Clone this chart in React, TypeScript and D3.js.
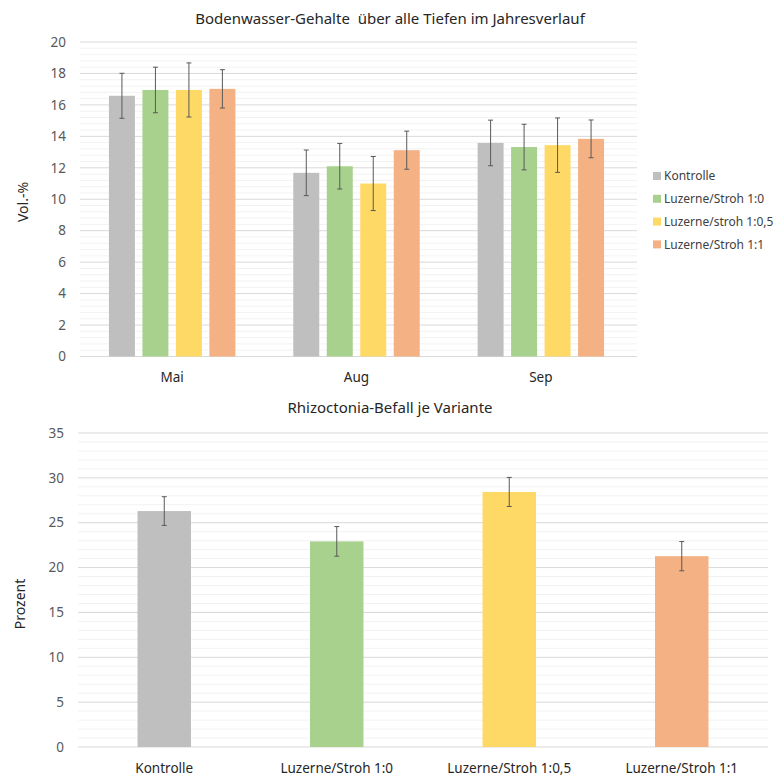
import React, { useEffect, useRef } from 'react';
import * as d3 from 'd3';

// --- Bodenwasser (top chart) ---
const months = ['Mai', 'Aug', 'Sep'];
const seriesNames = ['Kontrolle', 'Luzerne/Stroh 1:0', 'Luzerne/stroh 1:0,5', 'Luzerne/Stroh 1:1'];
const seriesColors = ['#bfbfbf', '#a9d18e', '#ffd966', '#f4b183'];

const waterKontrolle = [16.58, 11.68, 13.58];
const waterLuz10 = [16.95, 12.1, 13.32];
const waterLuz105 = [16.95, 11.0, 13.44];
const waterLuz11 = [17.02, 13.12, 13.84];

const errKontrolle = [1.43, 1.45, 1.45];
const errLuz10 = [1.45, 1.45, 1.45];
const errLuz105 = [1.72, 1.72, 1.73];
const errLuz11 = [1.22, 1.21, 1.2];

const waterTicks = [0, 2, 4, 6, 8, 10, 12, 14, 16, 18, 20];

// --- Rhizoctonia (bottom chart) ---
const varianten = ['Kontrolle', 'Luzerne/Stroh 1:0', 'Luzerne/Stroh 1:0,5', 'Luzerne/Stroh 1:1'];
const befall = [26.3, 22.92, 28.43, 21.27];
const befallErr = [1.6, 1.65, 1.62, 1.63];
const befallTicks = [0, 5, 10, 15, 20, 25, 30, 35];

const FONT = '"Noto Sans", "Open Sans", sans-serif';

const App = () => {
  const ref = useRef<SVGSVGElement>(null);

  useEffect(() => {
    document.body.style.margin = '0';
    const svg = d3.select(ref.current);
    svg.selectAll('*').remove();

    const waterValues = [waterKontrolle, waterLuz10, waterLuz105, waterLuz11];
    const waterErrors = [errKontrolle, errLuz10, errLuz105, errLuz11];

    // ===== top chart =====
    const top = { left: 80, right: 633, top: 42, bottom: 356.5 };
    const y1 = d3.scaleLinear().domain([0, 20]).range([top.bottom, top.top]);
    const x0 = d3.scaleBand().domain(months).range([top.left, top.right]).padding(0);
    const groupW = x0.bandwidth() * 0.686;
    const x1 = d3
      .scaleBand()
      .domain(seriesNames)
      .range([0, groupW])
      .paddingInner(0.224)
      .paddingOuter(0);

    const g1 = svg.append('g');

    // minor grid
    g1.append('g')
      .selectAll('line')
      .data(d3.range(0, 20.01, 0.4).filter(v => Math.abs(v / 2 - Math.round(v / 2)) > 0.01))
      .join('line')
      .attr('x1', top.left)
      .attr('x2', top.right + 4)
      .attr('y1', d => y1(d))
      .attr('y2', d => y1(d))
      .attr('stroke', '#f2f2f2')
      .attr('stroke-width', 1);

    // major grid
    g1.append('g')
      .selectAll('line')
      .data(waterTicks)
      .join('line')
      .attr('x1', top.left)
      .attr('x2', top.right + 4)
      .attr('y1', d => y1(d))
      .attr('y2', d => y1(d))
      .attr('stroke', '#d9d9d9')
      .attr('stroke-width', 1);

    g1.append('g')
      .selectAll('text')
      .data(waterTicks)
      .join('text')
      .attr('x', 66)
      .attr('y', d => y1(d))
      .attr('dy', '0.35em')
      .attr('text-anchor', 'end')
      .attr('fill', '#595959')
      .style('font-size', '13.5px')
      .text(d => d);

    seriesNames.forEach((name, si) => {
      const gs = g1.append('g');
      gs.selectAll('rect')
        .data(months)
        .join('rect')
        .attr('x', m => x0(m)! + (x0.bandwidth() - groupW) / 2 + x1(name)!)
        .attr('width', x1.bandwidth())
        .attr('y', (m, i) => y1(waterValues[si][i]))
        .attr('height', (m, i) => y1(0) - y1(waterValues[si][i]))
        .attr('fill', seriesColors[si]);

      months.forEach((m, i) => {
        const cx = x0(m)! + (x0.bandwidth() - groupW) / 2 + x1(name)! + x1.bandwidth() / 2;
        const v = waterValues[si][i];
        const e = waterErrors[si][i];
        const eg = gs.append('g').attr('stroke', '#595959').attr('stroke-width', 1);
        eg.append('line').attr('x1', cx).attr('x2', cx).attr('y1', y1(v + e)).attr('y2', y1(v - e));
        eg.append('line').attr('x1', cx - 2.5).attr('x2', cx + 2.5).attr('y1', y1(v + e)).attr('y2', y1(v + e));
        eg.append('line').attr('x1', cx - 2.5).attr('x2', cx + 2.5).attr('y1', y1(v - e)).attr('y2', y1(v - e));
      });
    });

    g1.append('g')
      .selectAll('text')
      .data(months)
      .join('text')
      .attr('x', m => x0(m)! + x0.bandwidth() / 2)
      .attr('y', 382)
      .attr('text-anchor', 'middle')
      .attr('fill', '#262626')
      .style('font-size', '13.5px')
      .text(m => m);

    g1.append('text')
      .attr('x', 390)
      .attr('y', 24)
      .attr('text-anchor', 'middle')
      .attr('fill', '#262626')
      .style('font-size', '15px')
      .style('white-space', 'pre')
      .text('Bodenwasser-Gehalte  über alle Tiefen im Jahresverlauf');

    g1.append('text')
      .attr('transform', `translate(23,202) rotate(-90)`)
      .attr('text-anchor', 'middle')
      .attr('dy', '0.35em')
      .attr('fill', '#262626')
      .style('font-size', '14px')
      .text('Vol.-%');

    // legend
    const legend = g1.append('g');
    seriesNames.forEach((name, i) => {
      const ly = 176 + i * 22.8;
      legend.append('rect').attr('x', 653).attr('y', ly - 4).attr('width', 8).attr('height', 8).attr('fill', seriesColors[i]);
      legend
        .append('text')
        .attr('x', 664)
        .attr('y', ly)
        .attr('dy', '0.35em')
        .attr('fill', '#404040')
        .style('font-size', '12px')
        .text(name);
    });

    // ===== bottom chart =====
    const bot = { left: 78, right: 768, top: 433, bottom: 747 };
    const y2 = d3.scaleLinear().domain([0, 35]).range([bot.bottom, bot.top]);
    const xb = d3.scaleBand().domain(varianten).range([bot.left, bot.right]).padding(0);
    const barW = xb.bandwidth() * 0.31;

    const g2 = svg.append('g');

    g2.append('g')
      .selectAll('line')
      .data(d3.range(0, 36, 1).filter(v => v % 5 !== 0))
      .join('line')
      .attr('x1', bot.left)
      .attr('x2', bot.right)
      .attr('y1', d => y2(d))
      .attr('y2', d => y2(d))
      .attr('stroke', '#f2f2f2')
      .attr('stroke-width', 1);

    g2.append('g')
      .selectAll('line')
      .data(befallTicks)
      .join('line')
      .attr('x1', bot.left)
      .attr('x2', bot.right)
      .attr('y1', d => y2(d))
      .attr('y2', d => y2(d))
      .attr('stroke', '#d9d9d9')
      .attr('stroke-width', 1);

    g2.append('g')
      .selectAll('text')
      .data(befallTicks)
      .join('text')
      .attr('x', 64)
      .attr('y', d => y2(d))
      .attr('dy', '0.35em')
      .attr('text-anchor', 'end')
      .attr('fill', '#595959')
      .style('font-size', '13.5px')
      .text(d => d);

    g2.append('g')
      .selectAll('rect')
      .data(varianten)
      .join('rect')
      .attr('x', d => xb(d)! + (xb.bandwidth() - barW) / 2)
      .attr('width', barW)
      .attr('y', (d, i) => y2(befall[i]))
      .attr('height', (d, i) => y2(0) - y2(befall[i]))
      .attr('fill', (d, i) => seriesColors[i]);

    varianten.forEach((d, i) => {
      const cx = xb(d)! + xb.bandwidth() / 2;
      const v = befall[i];
      const e = befallErr[i];
      const eg = g2.append('g').attr('stroke', '#595959').attr('stroke-width', 1);
      eg.append('line').attr('x1', cx).attr('x2', cx).attr('y1', y2(v + e)).attr('y2', y2(v - e));
      eg.append('line').attr('x1', cx - 2.5).attr('x2', cx + 2.5).attr('y1', y2(v + e)).attr('y2', y2(v + e));
      eg.append('line').attr('x1', cx - 2.5).attr('x2', cx + 2.5).attr('y1', y2(v - e)).attr('y2', y2(v - e));
    });

    g2.append('g')
      .selectAll('text')
      .data(varianten)
      .join('text')
      .attr('x', d => xb(d)! + xb.bandwidth() / 2)
      .attr('y', 773)
      .attr('text-anchor', 'middle')
      .attr('fill', '#262626')
      .style('font-size', '13.5px')
      .text(d => d);

    g2.append('text')
      .attr('x', 390)
      .attr('y', 413)
      .attr('text-anchor', 'middle')
      .attr('fill', '#262626')
      .style('font-size', '15px')
      .text('Rhizoctonia-Befall je Variante');

    g2.append('text')
      .attr('transform', `translate(20,604) rotate(-90)`)
      .attr('text-anchor', 'middle')
      .attr('dy', '0.35em')
      .attr('fill', '#262626')
      .style('font-size', '14px')
      .text('Prozent');
  }, []);

  return (
    <svg
      ref={ref}
      width={780}
      height={780}
      style={{ display: 'block', background: '#fff', fontFamily: FONT }}
    />
  );
};

export default App;
